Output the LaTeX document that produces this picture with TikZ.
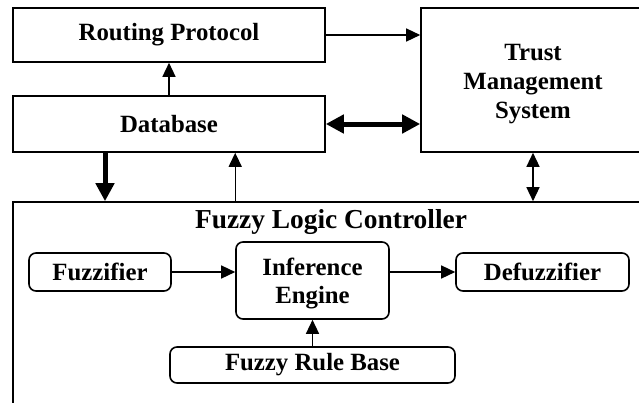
\documentclass[tikz,border=0pt]{standalone}
\usepackage{fontspec}
\setmainfont{Liberation Serif}
\usetikzlibrary{arrows.meta,calc}
\tikzset{
  txt/.style={inner sep=0pt,font=\fontsize{24.8}{28.6}\selectfont\bfseries,align=center},
  box/.style={draw,line width=1.6pt,txt},
  rbox/.style={box,rounded corners=7pt},
  arr/.style={line width=1.4pt,-{Triangle[length=14pt,width=13pt]}},
  darr/.style={line width=1.4pt,{Triangle[length=14pt,width=13pt]}-{Triangle[length=14pt,width=13pt]}},
  tarr/.style={line width=5pt,-{Triangle[length=18pt,width=18pt]}},
  tdarr/.style={line width=5pt,{Triangle[length=18pt,width=18pt]}-{Triangle[length=18pt,width=18pt]}},
}
\begin{document}
\begin{tikzpicture}[x=1pt,y=-1pt]
\useasboundingbox (0,0) rectangle (639,402);
\clip (0,0) rectangle (639,402);
\node[box,minimum width=312pt,minimum height=54pt] (rp) at (169,35) {Routing Protocol};
\node[box,minimum width=312pt,minimum height=56pt] (db) at (169,124) {Database};
\node[box,minimum width=224pt,minimum height=144pt] (tms) at (533,80) {};
\node[txt] (tmst) at ([yshift=-4pt]tms.center) {Trust\\Management\\System};
\node[draw,line width=1.6pt,minimum width=647pt,minimum height=218pt,inner sep=0pt] (flc) at (336.5,311) {};
\node[txt,font=\fontsize{27.4}{32}\selectfont\bfseries] (flct) at (331,222) {Fuzzy Logic Controller};
\node[rbox,minimum width=142pt,minimum height=38pt] (fuz) at (100,272) {Fuzzifier};
\node[rbox,minimum width=153pt,minimum height=77pt] (inf) at (312.5,280.5) {};
\node[txt] (inft) at ([yshift=-3pt]inf.center) {Inference\\Engine};
\node[rbox,minimum width=173pt,minimum height=38pt] (def) at (542.5,272) {Defuzzifier};
\node[rbox,minimum width=285pt,minimum height=36pt] (frb) at (312.5,365) {Fuzzy Rule Base};
\draw[arr] (db.north) -- (rp.south);
\draw[arr] (rp.east) -- (rp.east -| tms.west);
\draw[tdarr] (db.east) -- (db.east -| tms.west);
\draw[tarr] ([xshift=-64pt]db.south) -- ([xshift=-64pt]db.south |- flc.north);
\draw[arr] (inf.west |- flc.north) -- (inf.west |- db.south);
\draw[darr] (tms.south) -- (tms.south |- flc.north);
\draw[arr] (fuz.east) -- (fuz.east -| inf.west);
\draw[arr] (def.west -| inf.east) -- (def.west);
\draw[arr] (frb.north) -- (inf.south);
\end{tikzpicture}
\end{document}
